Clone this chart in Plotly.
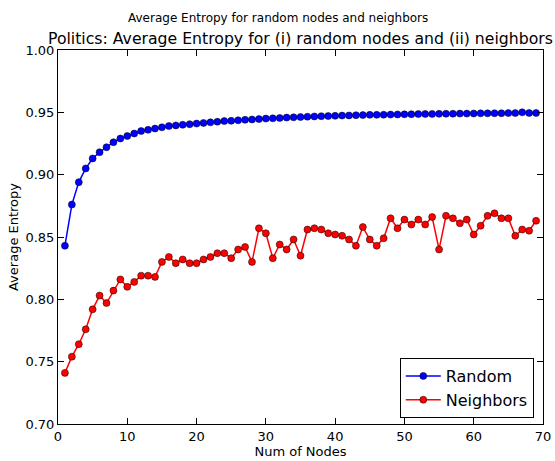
import plotly.graph_objects as go

nodes = list(range(1, 70))

random_entropy = [0.843, 0.876, 0.894, 0.905, 0.913, 0.918, 0.922, 0.926, 0.929, 0.931,
                  0.933, 0.935, 0.936, 0.937, 0.938, 0.939, 0.9395, 0.940, 0.9405, 0.941,
                  0.9415, 0.942, 0.9425, 0.943, 0.9432, 0.9436, 0.944, 0.9443, 0.9446, 0.945,
                  0.9452, 0.9455, 0.9458, 0.946, 0.9462, 0.9465, 0.9467, 0.9469, 0.947, 0.9472,
                  0.9474, 0.9475, 0.9477, 0.9478, 0.948, 0.948, 0.9481, 0.9482, 0.9483, 0.9484,
                  0.9485, 0.9486, 0.9487, 0.9487, 0.9488, 0.9489, 0.9489, 0.949, 0.949, 0.9491,
                  0.9492, 0.9492, 0.9493, 0.9493, 0.9494, 0.9494, 0.950, 0.9495, 0.9495]

neighbor_entropy = [0.741, 0.754, 0.764, 0.776, 0.792, 0.803, 0.797, 0.807, 0.816, 0.810,
                    0.814, 0.819, 0.819, 0.818, 0.830, 0.834, 0.829, 0.832, 0.829, 0.829,
                    0.832, 0.834, 0.837, 0.837, 0.833, 0.840, 0.842, 0.830, 0.857, 0.853,
                    0.833, 0.844, 0.840, 0.848, 0.835, 0.856, 0.857, 0.856, 0.853, 0.852,
                    0.851, 0.848, 0.843, 0.858, 0.848, 0.843, 0.849, 0.865, 0.857, 0.864,
                    0.860, 0.864, 0.860, 0.866, 0.840, 0.867, 0.865, 0.861, 0.864, 0.852,
                    0.859, 0.867, 0.869, 0.865, 0.865, 0.851, 0.856, 0.855, 0.863]

x_ticks = [0, 10, 20, 30, 40, 50, 60, 70]
y_ticks = [0.70, 0.75, 0.80, 0.85, 0.90, 0.95, 1.00]

FONT = "DejaVu Sans"

fig = go.Figure()
fig.add_trace(go.Scatter(
    x=nodes, y=random_entropy, mode="lines+markers", name="Random",
    line=dict(color="#0000ff", width=1.5),
    marker=dict(color="#0000ff", size=7, line=dict(color="#000000", width=0.5)),
))
fig.add_trace(go.Scatter(
    x=nodes, y=neighbor_entropy, mode="lines+markers", name="Neighbors",
    line=dict(color="#ff0000", width=1.5),
    marker=dict(color="#ff0000", size=7, line=dict(color="#000000", width=0.5)),
))

axis_common = dict(
    showline=True, linecolor="black", linewidth=1, mirror="allticks",
    ticks="inside", ticklen=6, tickcolor="black", showgrid=False, zeroline=False,
    automargin=False,
    tickfont=dict(family=FONT, size=13, color="black"),
)
fig.update_xaxes(range=[0, 70], tickvals=x_ticks, ticktext=[str(v) for v in x_ticks],
                 title=dict(text="Num of Nodes", font=dict(family=FONT, size=13, color="black"), standoff=2),
                 **axis_common)
fig.update_yaxes(range=[0.70, 1.00], tickvals=y_ticks, ticktext=[f"{v:.2f}" for v in y_ticks],
                 title=dict(text="Average Entropy", font=dict(family=FONT, size=13, color="black"), standoff=3),
                 **axis_common)

fig.update_layout(
    width=555, height=461,
    margin=dict(l=58, r=12, t=50, b=37),
    paper_bgcolor="white", plot_bgcolor="white",
    font=dict(family=FONT, color="black"),
    showlegend=True,
    legend=dict(x=0.981, y=0.016, xanchor="right", yanchor="bottom",
                bordercolor="black", borderwidth=1, bgcolor="white",
                font=dict(family=FONT, size=16, color="black"),
                tracegroupgap=0, itemwidth=35),
    annotations=[
        dict(text="Average Entropy for random nodes and neighbors", xref="paper", yref="paper",
             x=(277.5 - 58) / 485, y=1, yshift=32, xanchor="center", yanchor="middle",
             showarrow=False, font=dict(family=FONT, size=12, color="black")),
        dict(text="Politics: Average Entropy for (i) random nodes and (ii) neighbors", xref="paper", yref="paper",
             x=0.5, y=1, yshift=12, xanchor="center", yanchor="middle",
             showarrow=False, font=dict(family=FONT, size=15.7, color="black")),
    ],
)

fig.write_html("out.html")
